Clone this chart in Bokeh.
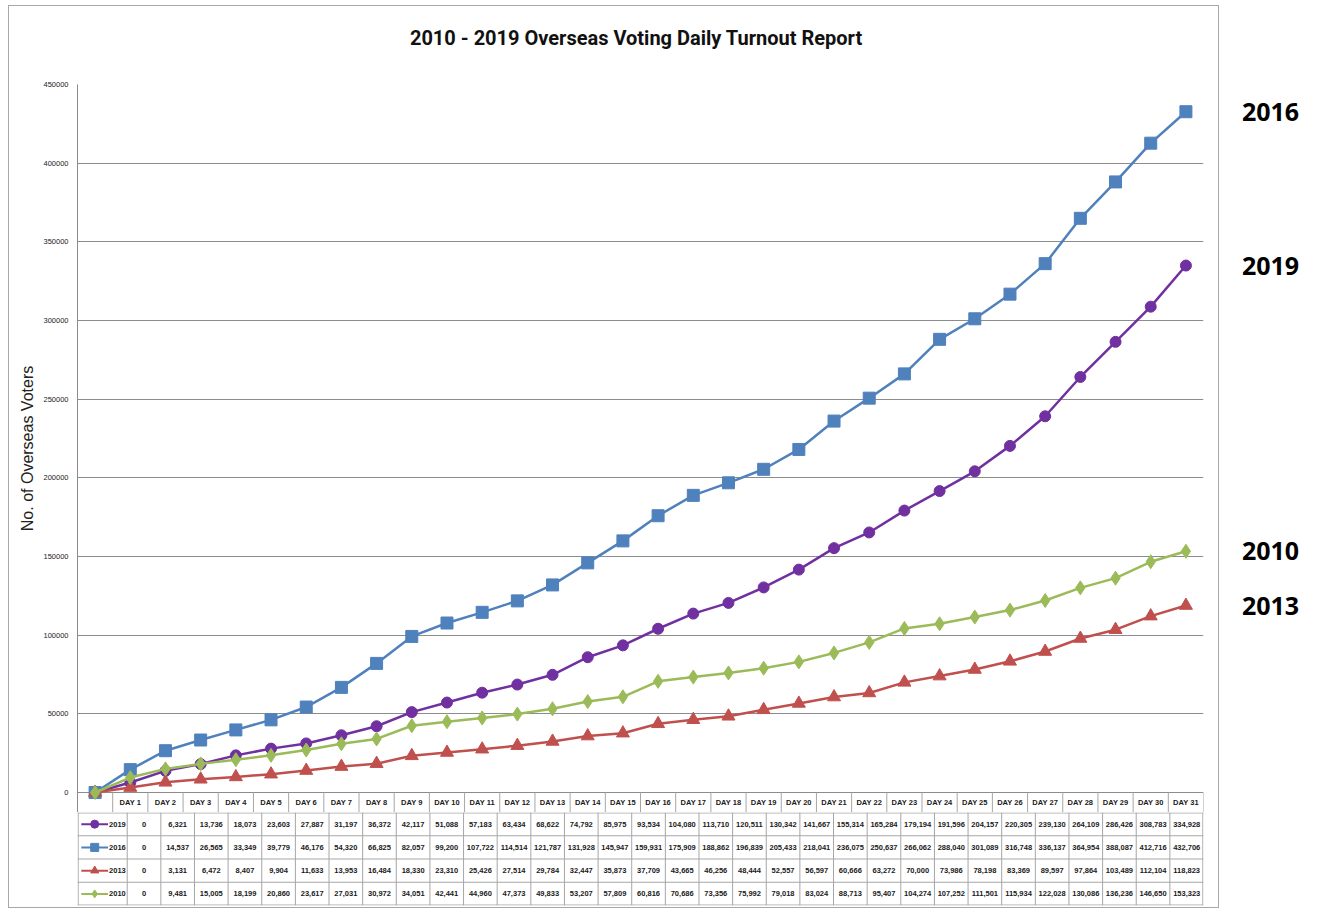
from bokeh.plotting import figure
from bokeh.layouts import column, row
from bokeh.models import Range1d, FixedTicker, NumeralTickFormatter
from bokeh.core.properties import value
from bokeh.embed import file_html
from bokeh.resources import INLINE

# ---------------- data ----------------
days = list(range(32))
day_labels = [""] + ["DAY %d" % i for i in range(1, 32)]
years = ["2019", "2016", "2013", "2010"]

v2019 = [0, 6321, 13736, 18073, 23603, 27887, 31197, 36372, 42117, 51088,
         57183, 63434, 68622, 74792, 85975, 93534, 104080, 113710, 120511, 130342, 141667,
         155314, 165284, 179194, 191596, 204157, 220305, 239130, 264109, 286426, 308783, 334928]
v2016 = [0, 14537, 26565, 33349, 39779, 46176, 54320, 66825, 82057, 99200,
         107722, 114514, 121787, 131928, 145947, 159931, 175909, 188862, 196839, 205433, 218041,
         236075, 250637, 266062, 288040, 301089, 316748, 336137, 364954, 388087, 412716, 432706]
v2013 = [0, 3131, 6472, 8407, 9904, 11633, 13953, 16484, 18330, 23310,
         25426, 27514, 29784, 32447, 35873, 37709, 43665, 46256, 48444, 52557, 56597,
         60666, 63272, 70000, 73986, 78198, 83369, 89597, 97864, 103489, 112104, 118823]
v2010 = [0, 9481, 15005, 18199, 20860, 23617, 27031, 30972, 34051, 42441,
         44960, 47373, 49833, 53207, 57809, 60816, 70686, 73356, 75992, 79018, 83024,
         88713, 95407, 104274, 107252, 111501, 115934, 122028, 130086, 136236, 146650, 153323]
y_ticks = [0, 50000, 100000, 150000, 200000, 250000, 300000, 350000, 400000, 450000]
title_text = "2010 - 2019 Overseas Voting Daily Turnout Report"
y_title = "No. of Overseas Voters"

series = [v2019, v2016, v2013, v2010]
colors = ["#7030A0", "#4F81BD", "#C0504D", "#9BBB59"]
markers = ["circle", "square", "triangle", "diamond"]
msizes = [11, 12, 13, 14]

# ---------------- geometry ----------------
FRAME_W = 1126.0
FRAME_PLOT_H = 708.0
PX_X = FRAME_W / 32.0
UNIT_Y = 450000.0 / FRAME_PLOT_H
HEAD_H = 20

SANS = "Liberation Sans"
GRID = "#8c8c8c"
BORDER = "#a6a6a6"
INK = "#1a1a1a"

# ---------------- title strip ----------------
t = figure(width=1209, height=70, x_range=Range1d(0, 1209), y_range=Range1d(0, 70),
           output_backend="svg", toolbar_location=None, x_axis_location=None,
           y_axis_location=None, min_border=0)
t.outline_line_color = None
t.grid.visible = False
t.text(x=[600], y=[39], text=[title_text], text_font=value("Roboto"),
       text_font_style="bold", text_font_size="20px", text_align="center",
       text_baseline="middle", text_color="#111111")

# ---------------- main chart ----------------
p = figure(width=1209, height=736,
           x_range=Range1d(-0.5, 31.5), y_range=Range1d(-HEAD_H * UNIT_Y, 450000),
           output_backend="svg", toolbar_location=None, x_axis_location=None,
           min_border_left=68, min_border_right=15, min_border_top=8, min_border_bottom=0)
p.outline_line_color = None
p.xgrid.grid_line_color = None
p.ygrid.grid_line_color = GRID
p.ygrid.grid_line_width = 1
p.yaxis.ticker = FixedTicker(ticks=y_ticks)
p.ygrid.ticker = FixedTicker(ticks=y_ticks)
p.yaxis.formatter = NumeralTickFormatter(format="0")
p.yaxis.axis_line_color = GRID
p.yaxis.major_tick_line_color = None
p.yaxis.minor_tick_line_color = None
p.yaxis.major_tick_out = 0
p.yaxis.major_tick_in = 0
p.yaxis.minor_tick_out = 0
p.yaxis.major_label_text_font = SANS
p.yaxis.major_label_text_font_size = "7.5px"
p.yaxis.major_label_text_color = "#222222"
p.yaxis.major_label_standoff = 9
p.yaxis.axis_label = y_title
p.yaxis.axis_label_text_font = SANS
p.yaxis.axis_label_text_font_size = "16px"
p.yaxis.axis_label_text_font_style = "normal"
p.yaxis.axis_label_text_color = "#222222"
p.yaxis.axis_label_standoff = 4

# header row of the data table (below zero line)
hx = [i + 0.5 for i in range(32)]
p.segment(x0=hx, y0=[-HEAD_H * UNIT_Y] * len(hx), x1=hx, y1=[0] * len(hx),
          line_color=BORDER, line_width=1)
p.text(x=days[1:], y=[-HEAD_H * UNIT_Y / 2] * 31, text=day_labels[1:],
       text_font=value(SANS), text_font_style="bold", text_font_size="7.5px",
       text_align="center", text_baseline="middle", text_color=INK)

for vals, c, m, s in zip(series, colors, markers, msizes):
    p.line(days, vals, line_color=c, line_width=2.5)
    p.scatter(days, vals, marker=m, size=s, fill_color=c, line_color=c)

# ---------------- data table ----------------
LEG_W = 52.0
xl = -0.5 - LEG_W / PX_X
q = figure(width=1209, height=95, x_range=Range1d(xl, 31.5), y_range=Range1d(0, 4),
           output_backend="svg", toolbar_location=None, x_axis_location=None,
           y_axis_location=None, min_border_left=16, min_border_right=15,
           min_border_top=0, min_border_bottom=2)
q.outline_line_color = None
q.grid.visible = False

hy = [0.02, 1, 2, 3, 3.98]
q.segment(x0=[xl] * 5, y0=hy, x1=[31.5] * 5, y1=hy, line_color=BORDER, line_width=1)
vx = [xl + 0.02] + [i - 0.5 for i in range(32)] + [31.48]
q.segment(x0=vx, y0=[0] * len(vx), x1=vx, y1=[4] * len(vx), line_color=BORDER, line_width=1)

for k, (yr, vals, c, m) in enumerate(zip(years, series, colors, markers)):
    row_y = 3.5 - k
    q.text(x=days, y=[row_y] * 32, text=["{:,}".format(v) for v in vals],
           text_font=value(SANS), text_font_style="bold", text_font_size="7.5px",
           text_align="center", text_baseline="middle", text_color=INK)
    q.segment(x0=[xl + 4 / PX_X], y0=[row_y], x1=[xl + 32 / PX_X], y1=[row_y],
              line_color=c, line_width=2)
    q.scatter(x=[xl + 18 / PX_X], y=[row_y], marker=m, size=8, fill_color=c, line_color=c)
    q.text(x=[xl + 33 / PX_X], y=[row_y], text=[yr],
           text_font=value(SANS), text_font_style="bold", text_font_size="7.5px",
           text_align="left", text_baseline="middle", text_color=INK)

# ---------------- right-hand year labels ----------------
r = figure(width=92, height=812, x_range=Range1d(0, 92), y_range=p.y_range,
           output_backend="svg", toolbar_location=None, x_axis_location=None,
           y_axis_location=None, min_border_left=0, min_border_right=0,
           min_border_top=84, min_border_bottom=0)
r.outline_line_color = None
r.grid.visible = False
r.text(x=[51] * 4, y=[v[-1] for v in series], text=years, text_font=value("Open Sans"),
       text_font_style="bold", text_font_size="25px", text_align="center",
       text_baseline="middle", text_color="#000000")

inner = column(t, p, q, styles={"border": "1px solid #a8a8a8",
                                "margin-left": "8px", "margin-top": "5px"})
layout = row(inner, r)
open("out.html", "w").write(file_html(layout, INLINE))
